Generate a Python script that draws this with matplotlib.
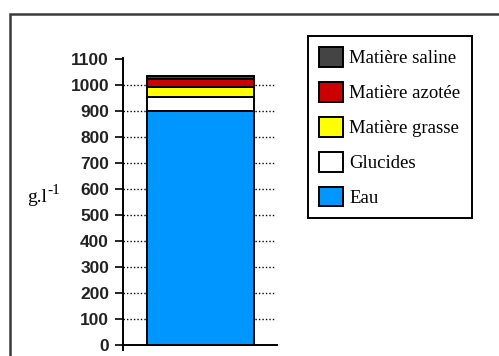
import matplotlib
matplotlib.use("Agg")
import matplotlib.pyplot as plt
from matplotlib.patches import Rectangle
from matplotlib.lines import Line2D

# composition du lait (g/l)
composants = ["Eau", "Glucides", "Matière grasse", "Matière azotée", "Matière saline"]
valeurs = [900, 55, 38, 30, 10]
couleurs = ["#0096ff", "#ffffff", "#ffff00", "#cc0000", "#444444"]
graduations = list(range(0, 1200, 100))

W, H = 499, 356
fig = plt.figure(figsize=(W / 100, H / 100), dpi=100)

# cadre extérieur
fig.add_artist(Rectangle((10 / W, -0.2), 1.2, 1.2 - 14 / H,
                         transform=fig.transFigure, fill=False,
                         edgecolor="#3a3a3a", linewidth=1.8))

ax = fig.add_axes([123 / W, (H - 350.2) / H, 154 / W, 293.8 / H])
ax.set_xlim(0, 1)
ax.set_ylim(-20, 1110)
for s in ax.spines.values():
    s.set_visible(False)

# pointillés horizontaux derrière la barre
ax.hlines(graduations[1:-1], 0, 0.99, colors="black", linestyles=(0, (1, 1.5)),
          linewidth=1, zorder=1)

bas = 0
for nom, v, c in zip(composants, valeurs, couleurs):
    ax.bar(0.503, v, width=0.695, bottom=bas, color=c, edgecolor="black",
           linewidth=1.4, label=nom, zorder=2)
    bas += v

# axes tracés à la main
ax.add_line(Line2D([0, 0], [-20, 1105], color="black", linewidth=1.4,
                   clip_on=False))
ax.add_line(Line2D([0, 1], [0, 0], color="black", linewidth=1.4, clip_on=False))

ax.set_xticks([])
ax.set_yticks(graduations)
ax.tick_params(axis="y", direction="out", length=6, width=1.2, pad=4,
               labelsize=12.5)
for t in ax.get_yticklabels():
    t.set_fontfamily("Liberation Sans")
    t.set_fontweight("bold")
    t.set_color("#222222")

fig.text(27 / W, 1 - 198 / H, "g.l", fontsize=14,
         family="Liberation Serif", va="center", ha="left")
fig.text(47 / W, 1 - 190 / H, "-1", fontsize=11,
         family="Liberation Serif", va="center", ha="left")

poignees, etiquettes = ax.get_legend_handles_labels()
leg = fig.legend(poignees[::-1], etiquettes[::-1], loc="upper left",
                 bbox_to_anchor=(308 / W, 1 - 36 / H), frameon=True,
                 fancybox=False, edgecolor="black", framealpha=1,
                 prop={"family": "Liberation Serif", "size": 13.5},
                 handlelength=1.25, handleheight=1.25, labelspacing=0.78,
                 handletextpad=0.35, borderpad=0.6, borderaxespad=0)
leg.get_frame().set_linewidth(1.4)

fig.savefig("out.png", dpi=100)
